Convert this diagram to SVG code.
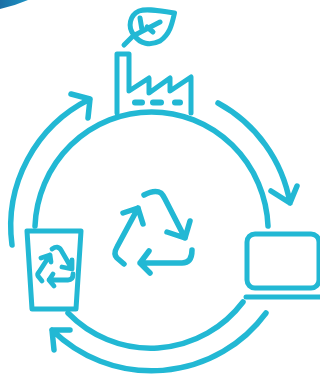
<svg xmlns="http://www.w3.org/2000/svg" width="320" height="375" viewBox="0 0 320 375">
<style>
.l{fill:none;stroke:#22b8d4;stroke-linecap:round;stroke-linejoin:round}
.a{stroke-width:5.500}
.b{stroke-width:5}
.s{stroke-width:4.800}
</style>
<defs><linearGradient id="g" x1="0" y1="0" x2="1" y2="0"><stop offset="0" stop-color="#1c6ea4"/><stop offset="1" stop-color="#1b93c4"/></linearGradient></defs>
<rect width="320" height="375" fill="#fff"/>
<path d="M0,0H28Q14,6 0,9Z" fill="url(#g)"/>
<g id="connectors">
<path class="l a" d="M35,226A116.600,119 0 0 1 268,226"/>
<path class="l a" d="M243,302A116.600,119 0 0 1 68,313"/>
<path class="l a" d="M12,245A142,142 0 0 1 90,99M71,94L90,99L88,118"/>
<path class="l a" d="M218,103A142,142 0 0 1 290,203M271,191L290,203L297,186"/>
<path class="l a" d="M266,313A142,142 0 0 1 52,330M70,330H52L54,350"/>
</g>
<g id="factory">
<path class="l b" d="M117,113V54H129V91L149,78V93L170,78V91L191,77V113"/>
<path class="l" stroke-width="6" d="M135,102.500H142M153,102.500H161M175,102.500H180"/>
</g>
<g id="leaf">
<path class="l b" d="M174.500,13C160,11 147,8 139,11C130,15 127,27 134,35C140,44 150,46 160,41C170,34 172,24 174.500,13Z"/>
<path class="l b" d="M124,45L133,36L160,22M140,18L142,30M147,27L153,32"/>
</g>
<g id="recycle">
<path class="l a" d="M144,195Q155,189 161,193Q163,195 165,199L185,238M167,232L185,238L190,221"/>
<path class="l a" d="M124,264L117,258Q113,254 117,247L138,208M123,213L138,208L143,224"/>
<path class="l a" d="M192,250Q192,263 182,263H140M149,251L140,263L150,273"/>
</g>
<g id="laptop">
<rect class="l b" x="247" y="234" width="72" height="54" rx="8"/>
<path class="l b" d="M246,297H322"/>
</g>
<g id="bin">
<path class="l b" d="M27,231H81L76,309H32Z"/>
<path class="l s" d="M52,249Q58,245 61,250L72,269M62,267L72,269L72,260"/>
<path class="l s" d="M42,281L38,276Q37,274 39,272L50,255M41,258L50,255L51,262"/>
<path class="l s" d="M73,274Q73,280 68,280H49M53,274L49,280L54,286"/>
</g>
</svg>
